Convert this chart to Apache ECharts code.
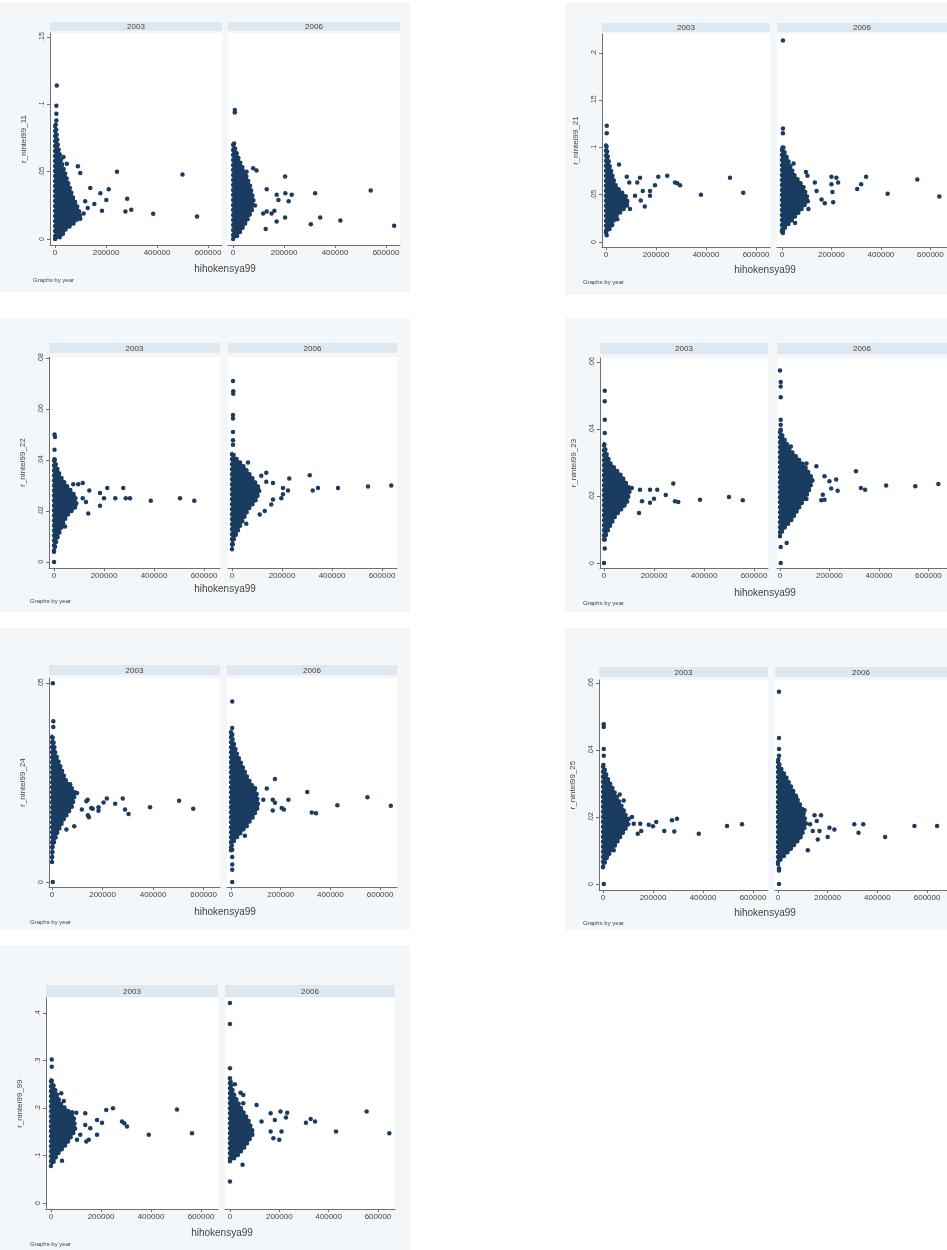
<!DOCTYPE html>
<html>
<head>
<meta charset="utf-8">
<script src="https://cdn.jsdelivr.net/npm/echarts@6/dist/echarts.min.js"></script>
<style>
  html, body { margin: 0; padding: 0; background: #fff; }
  #main { width: 947px; height: 1250px; }
</style>
</head>
<body>
<div id="main"></div>
<script>
// panels and axis text
const years = ['2003', '2006']
const xName = 'hihokensya99'
const xTicks = [0, 200000, 400000, 600000]
const yNames = ['r_nintei99_11', 'r_nintei99_21', 'r_nintei99_22', 'r_nintei99_23', 'r_nintei99_24', 'r_nintei99_25', 'r_nintei99_99']
const yTicks11 = [0, 0.05, 0.1, 0.15]
const yLabels11 = ['0', '.05', '.1', '.15']
const yTicks21 = [0, 0.05, 0.1, 0.15, 0.2]
const yLabels21 = ['0', '.05', '.1', '.15', '.2']
const yTicks22 = [0, 0.02, 0.04, 0.06, 0.08]
const yLabels22 = ['0', '.02', '.04', '.06', '.08']
const yTicks23 = [0, 0.02, 0.04, 0.06]
const yLabels23 = ['0', '.02', '.04', '.06']
const yTicks24 = [0, 0.05]
const yLabels24 = ['0', '.05']
const yTicks25 = [0, 0.02, 0.04, 0.06]
const yLabels25 = ['0', '.02', '.04', '.06']
const yTicks99 = [0, 0.1, 0.2, 0.3, 0.4]
const yLabels99 = ['0', '.1', '.2', '.3', '.4']

// dense core of each panel (outline), then the separate points
const env11_2003 = [[0, 0], [25000, 0.002], [40000, 0.007], [75000, 0.012], [100000, 0.018], [85000, 0.025], [70000, 0.031], [47000, 0.044], [27000, 0.056], [12000, 0.068], [6000, 0.078], [2000, 0.086], [0, 0.086]]
const pts11_2003 = [[6600, 0.114], [5000, 0.099], [5000, 0.093], [5000, 0.088], [89500, 0.054], [98700, 0.049], [243000, 0.050], [500000, 0.048], [210500, 0.037], [177600, 0.034], [283000, 0.030], [201000, 0.029], [118000, 0.028], [138000, 0.038], [154000, 0.026], [184000, 0.021], [276000, 0.0205], [299000, 0.0217], [385000, 0.0188], [557000, 0.0168], [112000, 0.019], [128000, 0.023], [79000, 0.023], [99000, 0.015], [66000, 0.029], [46000, 0.056], [33000, 0.061]]
const env11_2006 = [[0, 0], [15000, 0.002], [30000, 0.006], [55000, 0.014], [75000, 0.022], [80000, 0.029], [66000, 0.040], [45000, 0.050], [25000, 0.058], [10000, 0.066], [3000, 0.070], [0, 0.070]]
const pts11_2006 = [[6600, 0.0958], [6600, 0.094], [4000, 0.071], [6000, 0.065], [79000, 0.0526], [92000, 0.051], [53000, 0.050], [204000, 0.0464], [59000, 0.040], [132000, 0.037], [171000, 0.033], [205000, 0.034], [230000, 0.033], [218000, 0.028], [322000, 0.034], [540000, 0.036], [178000, 0.029], [132000, 0.0205], [151000, 0.019], [162000, 0.021], [204000, 0.016], [342000, 0.016], [305000, 0.011], [421000, 0.0138], [632000, 0.0099], [128000, 0.0074], [171000, 0.013], [86000, 0.025], [118000, 0.019]]

const env21_2003 = [[0, 0.010], [10000, 0.012], [25000, 0.018], [36000, 0.026], [60000, 0.032], [89000, 0.040], [80000, 0.048], [50000, 0.056], [36000, 0.061], [16000, 0.079], [6000, 0.092], [2000, 0.102], [0, 0.104]]
const pts21_2003 = [[2700, 0.007], [3000, 0.123], [3000, 0.115], [52000, 0.082], [83000, 0.069], [93000, 0.063], [136000, 0.068], [125000, 0.063], [209000, 0.069], [245000, 0.070], [276000, 0.063], [285000, 0.062], [296000, 0.060], [496000, 0.068], [196000, 0.060], [147000, 0.054], [176000, 0.049], [116000, 0.049], [380000, 0.050], [549000, 0.052], [139000, 0.044], [155000, 0.0376], [176000, 0.054], [96000, 0.035], [45000, 0.024]]
const env21_2006 = [[0, 0.011], [8000, 0.014], [40000, 0.023], [73000, 0.033], [107000, 0.044], [87000, 0.058], [47000, 0.072], [20000, 0.0895], [5000, 0.098], [0, 0.101]]
const pts21_2006 = [[4000, 0.213], [4000, 0.120], [4000, 0.115], [6000, 0.100], [47000, 0.083], [97000, 0.074], [103000, 0.070], [133000, 0.063], [200000, 0.069], [220000, 0.068], [227000, 0.063], [340000, 0.069], [320000, 0.061], [304000, 0.056], [200000, 0.061], [204000, 0.053], [427000, 0.051], [547000, 0.066], [636000, 0.048], [207000, 0.042], [160000, 0.045], [173000, 0.041], [107000, 0.035], [53000, 0.020], [4000, 0.0116], [4000, 0.0095], [140000, 0.054]]

const env22_2003 = [[0, 0.004], [10000, 0.0086], [31000, 0.0139], [50000, 0.018], [91000, 0.022], [84000, 0.026], [50000, 0.030], [24000, 0.0338], [8000, 0.038], [0, 0.041]]
const pts22_2003 = [[0, 0], [2000, 0.050], [4000, 0.049], [2000, 0.044], [3000, 0.040], [97000, 0.0305], [77000, 0.0305], [115000, 0.031], [141000, 0.028], [184000, 0.027], [213000, 0.029], [277000, 0.029], [200000, 0.025], [245000, 0.025], [287000, 0.025], [304000, 0.025], [387000, 0.024], [504000, 0.025], [561000, 0.024], [184000, 0.022], [137000, 0.019], [44000, 0.0139], [115000, 0.025], [128000, 0.0235]]
const env22_2006 = [[0, 0.005], [6000, 0.0086], [31000, 0.0139], [64000, 0.0205], [97000, 0.0245], [111000, 0.0285], [84000, 0.0325], [44000, 0.0378], [12000, 0.041], [0, 0.043]]
const pts22_2006 = [[4000, 0.071], [5000, 0.067], [5000, 0.066], [4000, 0.0576], [4000, 0.0563], [4000, 0.051], [4000, 0.0477], [4000, 0.046], [64000, 0.039], [137000, 0.035], [311000, 0.034], [229000, 0.0327], [117000, 0.0338], [164000, 0.031], [137000, 0.0314], [204000, 0.029], [224000, 0.028], [323000, 0.028], [344000, 0.029], [424000, 0.029], [544000, 0.0296], [637000, 0.030], [204000, 0.0265], [197000, 0.025], [164000, 0.0245], [157000, 0.0225], [131000, 0.020], [111000, 0.0186], [57000, 0.015]]

const env23_2003 = [[0, 0.007], [17000, 0.010], [44000, 0.0139], [91000, 0.0179], [104000, 0.0219], [71000, 0.0259], [24000, 0.0299], [8000, 0.033], [0, 0.036]]
const pts23_2003 = [[0, 0], [3000, 0.0514], [3000, 0.0483], [3000, 0.0428], [3000, 0.0388], [3000, 0.0043], [3000, 0.007], [37000, 0.028], [71000, 0.025], [111000, 0.0224], [144000, 0.0219], [184000, 0.0219], [213000, 0.0219], [277000, 0.0237], [247000, 0.0203], [200000, 0.0192], [184000, 0.018], [152000, 0.0184], [284000, 0.0184], [297000, 0.0182], [384000, 0.0189], [500000, 0.0197], [555000, 0.0187], [140000, 0.0149], [91000, 0.0219]]
const env23_2006 = [[0, 0.008], [12000, 0.010], [47000, 0.0129], [80000, 0.0169], [113000, 0.0209], [133000, 0.0249], [100000, 0.0289], [40000, 0.0338], [10000, 0.038], [0, 0.040]]
const pts23_2006 = [[0, 0.0575], [3000, 0.054], [3000, 0.0527], [3000, 0.0495], [3000, 0.0428], [3000, 0.0413], [3000, 0.0398], [3000, 0.0048], [3000, 0], [44000, 0.0348], [107000, 0.0297], [147000, 0.0289], [180000, 0.0259], [227000, 0.0249], [200000, 0.0244], [307000, 0.0274], [327000, 0.0224], [344000, 0.0219], [429000, 0.0231], [547000, 0.0229], [640000, 0.0236], [233000, 0.0216], [207000, 0.0222], [173000, 0.0204], [167000, 0.0187], [180000, 0.0189], [107000, 0.0191], [27000, 0.006]]

const env24_2003 = [[0, 0.005], [3000, 0.009], [20000, 0.0123], [46000, 0.0157], [79000, 0.019], [92000, 0.0224], [53000, 0.0257], [13000, 0.0324], [4000, 0.036], [0, 0.037]]
const pts24_2003 = [[3000, 0.050], [3000, 0], [5000, 0.0404], [5000, 0.039], [72000, 0.0246], [99000, 0.0224], [141000, 0.0207], [136000, 0.0203], [155000, 0.0186], [161000, 0.0184], [184000, 0.0179], [184000, 0.0188], [204000, 0.020], [217000, 0.021], [250000, 0.0197], [280000, 0.021], [289000, 0.0182], [303000, 0.0171], [388000, 0.0188], [503000, 0.0204], [559000, 0.0184], [142000, 0.0168], [146000, 0.0163], [88000, 0.014], [57000, 0.0132], [118000, 0.0182]]
const env24_2006 = [[0, 0.008], [5000, 0.0098], [50000, 0.0132], [90000, 0.0165], [110000, 0.019], [103000, 0.0224], [63000, 0.0266], [23000, 0.0324], [6000, 0.036], [0, 0.038]]
const pts24_2006 = [[5000, 0.0454], [5000, 0.0387], [5000, 0.037], [5000, 0.0081], [5000, 0.0063], [5000, 0.0044], [5000, 0.0031], [5000, 0], [50000, 0.0249], [97000, 0.0236], [144000, 0.0235], [177000, 0.0259], [130000, 0.0207], [168000, 0.0207], [177000, 0.0199], [168000, 0.018], [204000, 0.0186], [213000, 0.0182], [231000, 0.0207], [307000, 0.0226], [325000, 0.0175], [342000, 0.0173], [428000, 0.0193], [549000, 0.0213], [643000, 0.0192], [63000, 0.014], [56000, 0.0116], [23000, 0.0119]]

const env25_2003 = [[0, 0.005], [16000, 0.0081], [36000, 0.0101], [69000, 0.0141], [103000, 0.018], [83000, 0.022], [49000, 0.0269], [16000, 0.0319], [4000, 0.035], [0, 0.036]]
const pts25_2003 = [[3000, 0], [3000, 0.0477], [3000, 0.0469], [3000, 0.0403], [3000, 0.0383], [67000, 0.0267], [83000, 0.0249], [103000, 0.0195], [116000, 0.020], [149000, 0.018], [139000, 0.015], [153000, 0.0158], [183000, 0.0177], [213000, 0.0185], [200000, 0.0172], [245000, 0.0158], [276000, 0.019], [296000, 0.0195], [285000, 0.0157], [383000, 0.015], [496000, 0.0173], [556000, 0.0178], [43000, 0.0101], [16000, 0.0081], [123000, 0.018]]
const env25_2006 = [[0, 0.006], [13000, 0.0076], [47000, 0.0101], [93000, 0.0141], [113000, 0.018], [100000, 0.022], [67000, 0.0269], [33000, 0.0319], [8000, 0.035], [0, 0.0375]]
const pts25_2006 = [[4000, 0.0574], [4000, 0.0436], [4000, 0.0403], [4000, 0.0383], [4000, 0.0047], [4000, 0.004], [4000, 0], [73000, 0.0261], [107000, 0.022], [147000, 0.0205], [173000, 0.0205], [156000, 0.0188], [129000, 0.0178], [140000, 0.0158], [167000, 0.0158], [207000, 0.0168], [227000, 0.0163], [160000, 0.0133], [200000, 0.014], [307000, 0.0178], [343000, 0.0178], [324000, 0.0153], [431000, 0.014], [549000, 0.0173], [640000, 0.0173], [120000, 0.0101]]

const env99_2003 = [[0, 0.078], [8000, 0.084], [24000, 0.1015], [64000, 0.126], [97000, 0.154], [91000, 0.182], [37000, 0.21], [17000, 0.238], [5000, 0.255], [0, 0.262]]
const pts99_2003 = [[3000, 0.302], [3000, 0.287], [41000, 0.231], [51000, 0.215], [84000, 0.191], [101000, 0.19], [137000, 0.189], [221000, 0.196], [248000, 0.1995], [504000, 0.197], [184000, 0.175], [204000, 0.169], [284000, 0.1715], [293000, 0.168], [304000, 0.161], [137000, 0.1645], [157000, 0.1575], [184000, 0.1435], [391000, 0.1435], [564000, 0.147], [117000, 0.1435], [104000, 0.133], [141000, 0.1295], [151000, 0.133], [44000, 0.089]]
const env99_2006 = [[0, 0.088], [27000, 0.098], [61000, 0.119], [95000, 0.147], [74000, 0.175], [41000, 0.203], [14000, 0.231], [4000, 0.25], [0, 0.255]]
const pts99_2006 = [[0, 0.421], [0, 0.377], [0, 0.2835], [0, 0.2625], [3000, 0.255], [20000, 0.25], [43000, 0.232], [54000, 0.2275], [108000, 0.2065], [54000, 0.21], [205000, 0.1925], [232000, 0.19], [227000, 0.18], [165000, 0.189], [182000, 0.175], [128000, 0.1715], [308000, 0.169], [327000, 0.177], [345000, 0.1715], [430000, 0.1505], [554000, 0.1925], [646000, 0.147], [165000, 0.1505], [209000, 0.1505], [176000, 0.1365], [200000, 0.133], [51000, 0.0805], [0, 0.0455]]

// page layout of the seven figures (pixels)
const figs = [
  { bg: [0, 3, 410, 292], L: [50, 33, 222, 245], R: [228, 33, 400, 245], hy: 22, hh: 9, xl: [-20000, 655000], xr: [-20000, 655000], yr: [-0.0044, 0.153], yt: yTicks11, yl: yLabels11, env: [env11_2003, env11_2006], pts: [pts11_2003, pts11_2006], xt: [225, 269], gb: [33, 280] },
  { bg: [565, 3, 947, 295], L: [602, 34, 770, 247], R: [777, 34, 947, 247], hy: 23, hh: 9, xl: [-16000, 656000], xr: [-20000, 667000], yr: [-0.0053, 0.22], yt: yTicks21, yl: yLabels21, env: [env21_2003, env21_2006], pts: [pts21_2003, pts21_2006], xt: [765, 270], gb: [583, 282] },
  { bg: [0, 318, 410, 612], L: [49, 357, 220, 568], R: [228, 357, 397, 568], hy: 343, hh: 10, xl: [-20000, 664000], xr: [-16000, 660000], yr: [-0.0024, 0.0804], yt: yTicks22, yl: yLabels22, env: [env22_2003, env22_2006], pts: [pts22_2003, pts22_2006], xt: [225, 589], gb: [30, 601] },
  { bg: [565, 318, 947, 612], L: [600, 358, 768, 568], R: [777, 358, 947, 568], hy: 343, hh: 11, xl: [-16000, 656000], xr: [-12000, 675000], yr: [-0.0015, 0.0612], yt: yTicks23, yl: yLabels23, env: [env23_2003, env23_2006], pts: [pts23_2003, pts23_2006], xt: [765, 593], gb: [583, 603] },
  { bg: [0, 628, 410, 930], L: [49, 678, 220, 887], R: [227, 678, 397, 887], hy: 665, hh: 10, xl: [-12000, 665000], xr: [-16000, 668000], yr: [-0.00126, 0.0513], yt: yTicks24, yl: yLabels24, env: [env24_2003, env24_2006], pts: [pts24_2003, pts24_2006], xt: [225, 912], gb: [30, 922] },
  { bg: [565, 628, 947, 930], L: [599, 680, 768, 890], R: [775, 680, 947, 890], hy: 667, hh: 10, xl: [-16000, 660000], xr: [-12000, 680000], yr: [-0.0018, 0.0609], yt: yTicks25, yl: yLabels25, env: [env25_2003, env25_2006], pts: [pts25_2003, pts25_2006], xt: [765, 913], gb: [583, 923] },
  { bg: [0, 945, 410, 1250], L: [46, 998, 218, 1209], R: [225, 998, 395, 1209], hy: 985, hh: 12, xl: [-20000, 668000], xr: [-20000, 669000], yr: [-0.0126, 0.4316], yt: yTicks99, yl: yLabels99, env: [env99_2003, env99_2006], pts: [pts99_2003, pts99_2006], xt: [222, 1233], gb: [30, 1244] }
]

const NAVY = '#1b3c61'
const FONT = 'Liberation Sans'
const AXIS = '#6f6f6f'
const TEXT = '#3f3f3f'

const grid = []
const xAxis = []
const yAxis = []
const series = []
const graphic = []

figs.forEach((f, fi) => {
  graphic.push({ type: 'rect', z: -100, shape: { x: f.bg[0], y: f.bg[1], width: f.bg[2] - f.bg[0], height: f.bg[3] - f.bg[1] }, style: { fill: '#f4f7f9' } })
  const panels = [f.L, f.R]
  panels.forEach((p, pi) => {
    const gi = grid.length
    grid.push({ left: p[0], top: p[1], width: p[2] - p[0], height: p[3] - p[1], show: true, backgroundColor: '#fff', borderWidth: 0 })
    graphic.push({ type: 'rect', z: -50, shape: { x: p[0], y: f.hy, width: p[2] - p[0], height: f.hh }, style: { fill: '#dde8f0' } })
    graphic.push({ type: 'text', x: (p[0] + p[2]) / 2, y: f.hy + f.hh / 2 + 0.5, style: { text: years[pi], font: '8px ' + FONT, fill: TEXT, align: 'center', verticalAlign: 'middle' } })
    const xr = pi === 0 ? f.xl : f.xr
    xAxis.push({
      gridIndex: gi, type: 'value', min: xr[0], max: xr[1],
      splitLine: { show: false },
      axisLine: { show: true, onZero: false, lineStyle: { color: AXIS, width: 1 } },
      axisTick: { show: true, length: 3, customValues: xTicks, lineStyle: { color: AXIS } },
      axisLabel: { customValues: xTicks, fontFamily: FONT, fontSize: 8, color: TEXT, margin: 4, formatter: v => String(v) }
    })
    const yt = f.yt
    const yl = f.yl
    yAxis.push({
      gridIndex: gi, type: 'value', min: f.yr[0], max: f.yr[1],
      show: pi === 0,
      name: pi === 0 ? yNames[fi] : '',
      nameLocation: 'middle', nameRotate: 90, nameGap: 22,
      nameTextStyle: { fontFamily: FONT, fontSize: 8, color: TEXT },
      splitLine: { show: false },
      axisLine: { show: true, onZero: false, lineStyle: { color: AXIS, width: 1 } },
      axisTick: { show: true, length: 3, customValues: yt, lineStyle: { color: AXIS } },
      axisLabel: {
        customValues: yt, rotate: 90, fontFamily: FONT, fontSize: 7, color: TEXT, margin: 4,
        formatter: v => yl[yt.findIndex(t => Math.abs(t - v) < 1e-9)]
      }
    })
    const env = f.env[pi]
    // solid core plus a dotted round outline so the edge looks like a fringe of markers
    series.push({
      type: 'custom', xAxisIndex: gi, yAxisIndex: gi, silent: true, data: [[0, 0]],
      renderItem: (params, api) => {
        const pts = env.map(d => api.coord(d))
        return {
          type: 'group',
          children: [
            { type: 'polygon', shape: { points: pts }, style: { fill: NAVY, stroke: NAVY, lineWidth: 1.5, lineJoin: 'round' } },
            { type: 'polygon', shape: { points: pts }, style: { fill: null, stroke: NAVY, lineWidth: 4.5, lineCap: 'round', lineDash: [0, 5] } }
          ]
        }
      }
    })
    series.push({
      type: 'scatter', xAxisIndex: gi, yAxisIndex: gi, silent: true,
      symbol: 'circle', symbolSize: 4.5, data: f.pts[pi],
      itemStyle: { color: NAVY, opacity: 1 }
    })
  })
  graphic.push({ type: 'text', x: f.xt[0], y: f.xt[1], style: { text: xName, font: '10px ' + FONT, fill: TEXT, align: 'center', verticalAlign: 'middle' } })
  graphic.push({ type: 'text', x: f.gb[0], y: f.gb[1], style: { text: 'Graphs by year', font: '6px ' + FONT, fill: TEXT, align: 'left', verticalAlign: 'middle' } })
})

const chart = echarts.init(document.getElementById('main'))
chart.setOption({
  backgroundColor: '#fff',
  animation: false,
  grid: grid,
  xAxis: xAxis,
  yAxis: yAxis,
  series: series,
  graphic: graphic
})
</script>
</body>
</html>
